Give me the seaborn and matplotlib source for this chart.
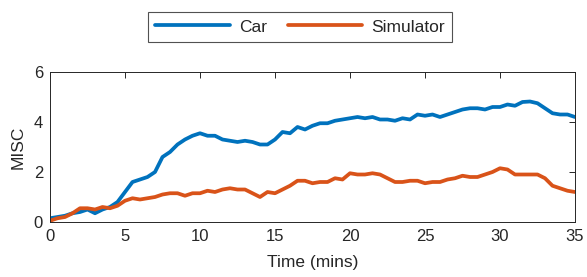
import numpy as np
import pandas as pd
import matplotlib
matplotlib.use("Agg")
import matplotlib.pyplot as plt
import seaborn as sns

time_mins = [i * 0.5 for i in range(71)]
car = [0.15, 0.2, 0.25, 0.35, 0.4, 0.5, 0.35, 0.5, 0.6, 0.8,
       1.2, 1.6, 1.7, 1.8, 2.0, 2.6, 2.8, 3.1, 3.3, 3.45,
       3.55, 3.45, 3.45, 3.3, 3.25, 3.2, 3.25, 3.2, 3.1, 3.1,
       3.3, 3.6, 3.55, 3.8, 3.7, 3.85, 3.95, 3.95, 4.05, 4.1,
       4.15, 4.2, 4.15, 4.2, 4.1, 4.1, 4.05, 4.15, 4.1, 4.3,
       4.25, 4.3, 4.2, 4.3, 4.4, 4.5, 4.55, 4.55, 4.5, 4.6,
       4.6, 4.7, 4.65, 4.8, 4.82, 4.75, 4.55, 4.35, 4.3, 4.3,
       4.2]
simulator = [0.05, 0.15, 0.2, 0.35, 0.55, 0.55, 0.5, 0.6, 0.55, 0.65,
             0.85, 0.95, 0.9, 0.95, 1.0, 1.1, 1.15, 1.15, 1.05, 1.15,
             1.15, 1.25, 1.2, 1.3, 1.35, 1.3, 1.3, 1.15, 1.0, 1.2,
             1.15, 1.3, 1.45, 1.65, 1.65, 1.55, 1.6, 1.6, 1.75, 1.7,
             1.95, 1.9, 1.9, 1.95, 1.9, 1.75, 1.6, 1.6, 1.65, 1.65,
             1.55, 1.6, 1.6, 1.7, 1.75, 1.85, 1.8, 1.8, 1.9, 2.0,
             2.15, 2.1, 1.9, 1.9, 1.9, 1.9, 1.75, 1.45, 1.35, 1.25,
             1.2]
series_names = ["Car", "Simulator"]
colors = ["#0072BD", "#D95319"]
x_ticks = [0, 5, 10, 15, 20, 25, 30, 35]
y_ticks = [0, 2, 4, 6]

df = pd.DataFrame({
    "Time": time_mins * 2,
    "MISC": car + simulator,
    "Source": [series_names[0]] * len(car) + [series_names[1]] * len(simulator),
})

sns.set_theme(style="white")
plt.rcParams["font.family"] = ["Liberation Sans", "DejaVu Sans"]

fig = plt.figure(figsize=(5.87, 2.77), dpi=100)
ax = fig.add_axes([50 / 587, 1 - 222 / 277, 525 / 587, 150 / 277])

sns.lineplot(data=df, x="Time", y="MISC", hue="Source", palette=colors,
             linewidth=2.7, ax=ax, legend=True)

ax.set_xlim(0, 35)
ax.set_ylim(0, 6)
ax.set_xticks(x_ticks)
ax.set_yticks(y_ticks)
ax.set_xlabel("Time (mins)", fontsize=12.5, color="#262626", labelpad=8)
ax.set_ylabel("MISC", fontsize=12.5, color="#262626", labelpad=6)
ax.tick_params(direction="in", top=True, right=True, length=4, width=0.7,
               colors="#262626", labelsize=12, pad=5)
for s in ax.spines.values():
    s.set_visible(True)
    s.set_color("#262626")
    s.set_linewidth(0.7)

h, l = ax.get_legend_handles_labels()
ax.legend(h, l, loc="center", bbox_to_anchor=(300 / 587, 1 - 27 / 277),
          bbox_transform=fig.transFigure, ncol=2, frameon=True, fancybox=False,
          edgecolor="#262626", fontsize=12.5, handlelength=4.3, columnspacing=1.2,
          handletextpad=0.5, borderpad=0.4, title=None)
ax.get_legend().get_frame().set_linewidth(0.8)

fig.savefig("out.png", dpi=100)
